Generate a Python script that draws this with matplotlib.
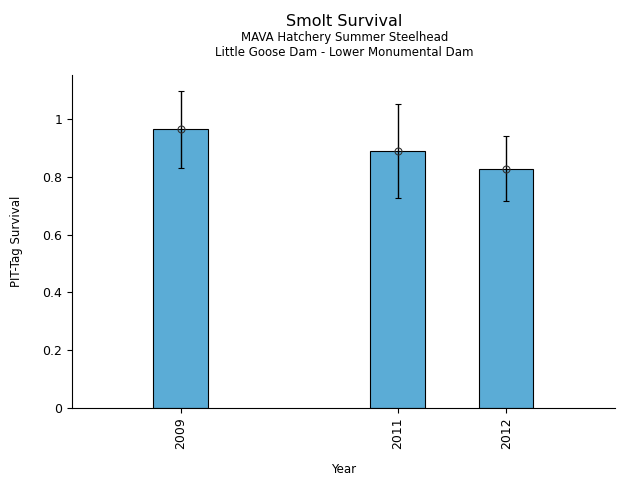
import matplotlib
matplotlib.use("Agg")
import matplotlib.pyplot as plt
from matplotlib.ticker import FuncFormatter

years = [2009, 2011, 2012]
survival = [0.965, 0.888, 0.826]
lower = [0.830, 0.727, 0.716]
upper = [1.095, 1.050, 0.940]
year_labels = ["2009", "2011", "2012"]

fig = plt.figure(figsize=(6.4, 4.8), dpi=100)
ax = fig.add_axes([0.1125, 0.15, 0.848, 0.694])

err_lo = [s - l for s, l in zip(survival, lower)]
err_hi = [u - s for s, u in zip(survival, upper)]

ax.bar(years, survival, width=0.5, color="#5bacd6", edgecolor="black", linewidth=0.8, zorder=2)
ax.errorbar(years, survival, yerr=[err_lo, err_hi], fmt="o", markersize=5,
            markerfacecolor="none", markeredgecolor="#333333", markeredgewidth=0.8,
            ecolor="black", elinewidth=1, capsize=2.5, capthick=1, zorder=3)

ax.set_xlim(2008.0, 2013.0)
ax.set_ylim(0, 1.152)
ax.set_xticks(years)
ax.set_xticklabels(year_labels, rotation=90)
ax.set_yticks([0, 0.2, 0.4, 0.6, 0.8, 1.0])
ax.yaxis.set_major_formatter(FuncFormatter(lambda v, p: f"{v:g}"))
ax.tick_params(labelsize=9)
ax.spines["top"].set_visible(False)
ax.spines["right"].set_visible(False)
ax.set_xlabel("Year", fontsize=8.5, labelpad=10)
ax.set_ylabel("PIT-Tag Survival", fontsize=8.5, labelpad=14)

fig.text(0.538, 0.955, "Smolt Survival", ha="center", va="center", fontsize=11.5)
fig.text(0.538, 0.922, "MAVA Hatchery Summer Steelhead", ha="center", va="center", fontsize=8.5)
fig.text(0.538, 0.891, "Little Goose Dam - Lower Monumental Dam", ha="center", va="center", fontsize=8.5)

fig.savefig("out.png", dpi=100)
